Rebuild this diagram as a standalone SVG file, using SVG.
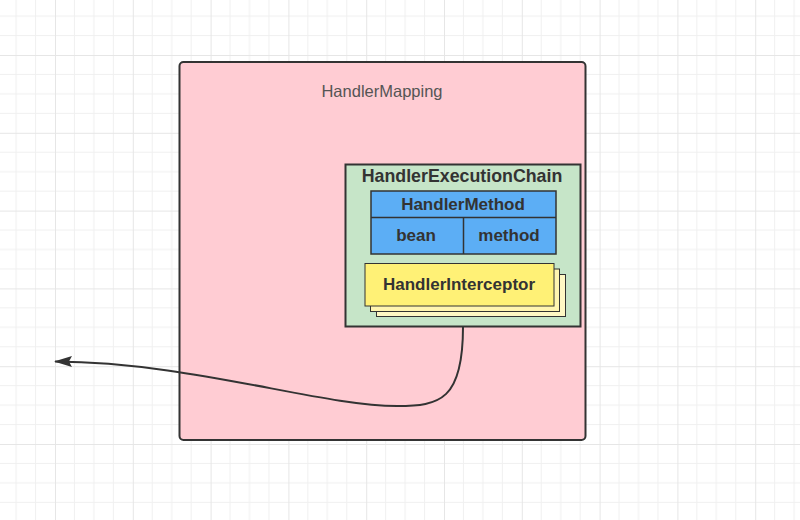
<svg xmlns="http://www.w3.org/2000/svg" width="800" height="520" viewBox="0 0 800 520">
  <defs>
    <pattern id="grid" patternUnits="userSpaceOnUse" x="55" y="55" width="77.8" height="77.8">
      <path d="M19.45 0V77.8M38.9 0V77.8M58.35 0V77.8M0 19.45H77.8M0 38.9H77.8M0 58.35H77.8" stroke="#f0f0f0" stroke-width="1" fill="none"/>
      <path d="M0.5 0V77.8M0 0.5H77.8" stroke="#e6e6e6" stroke-width="1" fill="none"/>
    </pattern>
    <marker id="arrow" markerWidth="20" markerHeight="14" refX="17" refY="6" orient="auto" markerUnits="userSpaceOnUse">
      <path d="M18 6 L0 0.5 L3 6 L0 11.5 Z" fill="#333"/>
    </marker>
    <style>
      .bold { font-family: "Liberation Sans", Arial, sans-serif; font-weight: bold; fill: #333; text-anchor: middle; }
      .edge { fill: none; stroke: #333; stroke-width: 2; }
    </style>
  </defs>
  <rect width="800" height="520" fill="#ffffff"/>
  <rect width="800" height="520" fill="url(#grid)"/>

  <g id="HandlerMapping">
    <rect x="179.5" y="62" width="406" height="378" rx="4" fill="#ffccd3" stroke="#333" stroke-width="2"/>
    <text x="382" y="97" font-family="Liberation Sans, Arial, sans-serif" font-size="16.5" fill="#555" text-anchor="middle">HandlerMapping</text>
  </g>

  <g id="HandlerExecutionChain">
    <rect x="345.5" y="164.5" width="235" height="162" fill="#c6e5c8" stroke="#333" stroke-width="2"/>
    <text class="bold" x="462" y="182" font-size="17.8">HandlerExecutionChain</text>
  </g>

  <g id="HandlerMethod">
    <rect x="371" y="191" width="185" height="63" fill="#5caef5" stroke="#333" stroke-width="1.5"/>
    <line x1="371" y1="217.5" x2="556" y2="217.5" stroke="#333" stroke-width="1.5"/>
    <line x1="463.5" y1="217.5" x2="463.5" y2="254" stroke="#333" stroke-width="1.5"/>
    <text class="bold" x="463" y="210" font-size="17">HandlerMethod</text>
    <text class="bold" x="416" y="241" font-size="17">bean</text>
    <text class="bold" x="509" y="241" font-size="17">method</text>
  </g>

  <g id="HandlerInterceptor">
    <rect x="376.5" y="274.5" width="189" height="42" fill="#fff8c4" stroke="#333" stroke-width="1"/>
    <rect x="370.5" y="269" width="189" height="42.5" fill="#fff5b0" stroke="#333" stroke-width="1"/>
    <rect x="365" y="263.5" width="189" height="42.5" fill="#fff176" stroke="#333" stroke-width="1"/>
    <text class="bold" x="459" y="290" font-size="17">HandlerInterceptor</text>
  </g>

  <g id="connectors">
    <path class="edge" d="M463 327 C463 400 440 406 397 406 C320 406 190 362 55 361.5" marker-end="url(#arrow)"/>
  </g>
</svg>
